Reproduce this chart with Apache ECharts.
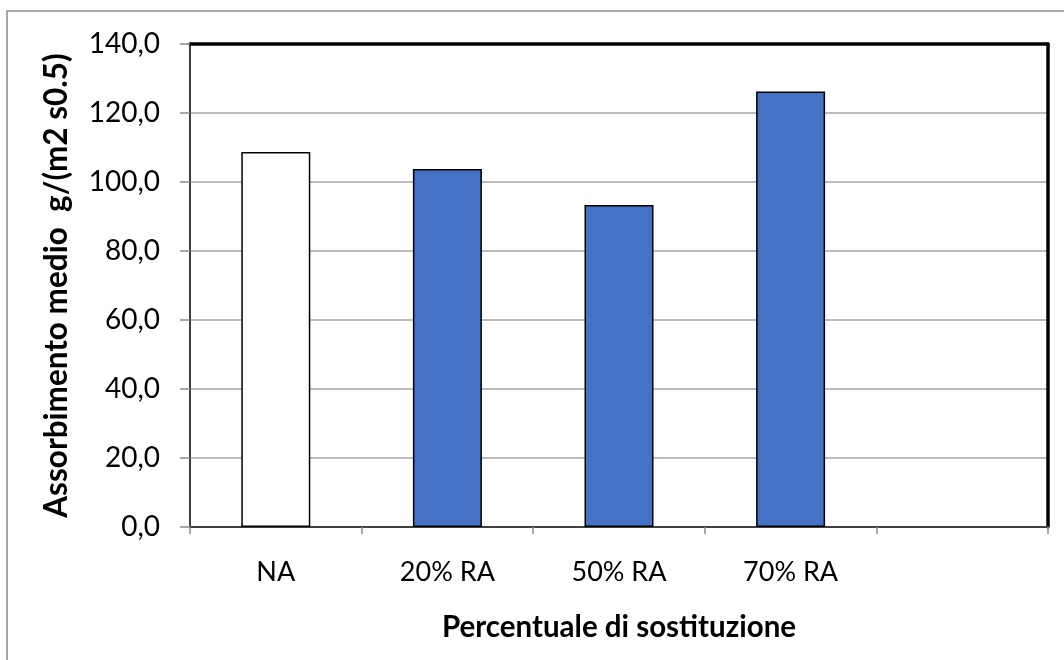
<!DOCTYPE html>
<html>
<head>
<meta charset="utf-8">
<script src="https://cdn.jsdelivr.net/npm/echarts@6/dist/echarts.min.js"></script>
<style>
  html, body { margin: 0; padding: 0; background: #fff; }
  #chart { width: 1064px; height: 660px; }
</style>
</head>
<body>
<div id="chart"></div>
<script>
// Average water absorption by recycled-aggregate replacement level
const categories = ['NA', '20% RA', '50% RA', '70% RA', ''];
const absorption = [108.7, 103.8, 93.3, 126.2, null];
const barColors = ['#ffffff', '#4472C4', '#4472C4', '#4472C4', '#4472C4'];
const yTicks = { min: 0, max: 140, interval: 20 };

const FONT = 'Lato, "Open Sans", sans-serif';
const chart = echarts.init(document.getElementById('chart'));

chart.setOption({
  backgroundColor: '#ffffff',
  animation: false,
  graphic: [{
    type: 'rect',
    shape: { x: 7, y: 11, width: 1200, height: 800 },
    style: { fill: 'none', stroke: '#8c8c8c', lineWidth: 1.5 },
    silent: true
  }],
  grid: { left: 190, right: 16, top: 44, bottom: 133 },
  xAxis: [{
    type: 'category',
    data: categories,
    boundaryGap: true,
    axisLine: { show: true, onZero: false, lineStyle: { color: '#404040', width: 2 } },
    axisTick: { show: true, alignWithLabel: false, length: 7, lineStyle: { color: '#8c8c8c', width: 1.5 } },
    axisLabel: { color: '#000', fontFamily: FONT, fontSize: 27, margin: 32 },
    name: 'Percentuale di sostituzione',
    nameLocation: 'middle',
    nameGap: 85,
    nameTextStyle: { color: '#000', fontFamily: FONT, fontSize: 29.5, fontWeight: 'bold' }
  }, {
    type: 'category',
    data: categories,
    position: 'top',
    axisLine: { show: true, onZero: false, lineStyle: { color: '#000', width: 3.5 } },
    axisTick: { show: false },
    axisLabel: { show: false }
  }],
  yAxis: [{
    type: 'value',
    min: yTicks.min,
    max: yTicks.max,
    interval: yTicks.interval,
    axisLine: { show: true, onZero: false, lineStyle: { color: '#404040', width: 2 } },
    axisTick: { show: true, length: 10, lineStyle: { color: '#8c8c8c', width: 1.5 } },
    splitLine: { show: true, lineStyle: { color: '#a6a6a6', width: 1.5 } },
    axisLabel: {
      color: '#000', fontFamily: FONT, fontSize: 28, margin: 30,
      formatter: v => v.toFixed(1).replace('.', ',')
    },
    name: 'Assorbimento medio  g/(m2 s0.5)',
    nameLocation: 'middle',
    nameGap: 117,
    nameTextStyle: { color: '#000', fontFamily: FONT, fontSize: 31.5, fontWeight: 'bold' }
  }, {
    type: 'value',
    position: 'right',
    min: yTicks.min,
    max: yTicks.max,
    interval: yTicks.interval,
    axisLine: { show: true, onZero: false, lineStyle: { color: '#000', width: 3.5 } },
    axisTick: { show: false },
    axisLabel: { show: false },
    splitLine: { show: false }
  }],
  series: [{
    type: 'bar',
    xAxisIndex: 0,
    yAxisIndex: 0,
    barWidth: 69,
    data: absorption.map((v, i) => ({
      value: v,
      itemStyle: { color: barColors[i], borderColor: '#000', borderWidth: 1.5 }
    }))
  }]
});
</script>
</body>
</html>
